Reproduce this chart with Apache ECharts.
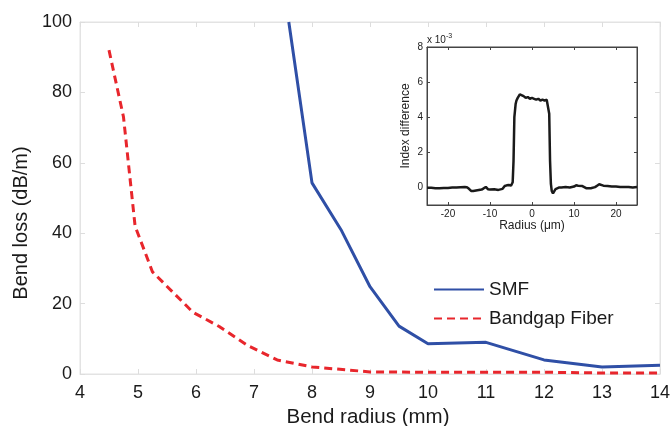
<!DOCTYPE html>
<html><head><meta charset="utf-8">
<script src="https://cdn.jsdelivr.net/npm/echarts@6/dist/echarts.min.js"></script>
<style>html,body{margin:0;padding:0;background:#fff}#c{width:670px;height:426px}</style>
</head><body><div id="c"></div>
<script>
// Main chart data
var smfRadius = [7.6, 8, 8.5, 9, 9.5, 10, 11, 12, 13, 14];
var smfLoss   = [100, 54.3, 41, 24.8, 13.6, 8.6, 9, 4, 2, 2.5];
var bgRadius  = [4.5, 4.75, 4.95, 5.25, 5.95, 6.4, 6.9, 7.4, 8, 9, 10, 11, 12, 13, 14];
var bgLoss    = [92, 73, 42, 29, 17.5, 13.5, 8, 4, 2, 0.6, 0.5, 0.5, 0.5, 0.3, 0.3];
// Inset data (index difference in units of 1e-3)
var insetXTicks = [-20, -10, 0, 10, 20];
var insetYTicks = [0, 2, 4, 6, 8];
var insetRadius = [-25,-24,-23,-22,-21,-20,-19,-18,-17,-16,-15.5,-15,-14.5,-14,-13,-12,-11.5,-11,-10.5,-10,-9,-8,-7,-6.5,-6,-5.5,-5,-4.6,-4.4,-4.2,-3.9,-3.7,-3.4,-2.9,-2.5,-2,-1.5,-1,-0.5,0,0.5,1,1.5,2,2.5,3,3.5,3.9,4.1,4.3,4.5,4.7,5,5.3,5.6,6,6.5,7,8,9,10,10.5,11,12,13,14,15,15.5,16,17,18,19,20,21,22,23,24,25];
var insetIndex  = [-0.02,-0.02,-0.04,-0.05,-0.03,-0.03,-0.01,0,0.01,0.02,0.01,-0.08,-0.2,-0.2,-0.16,-0.12,-0.05,0.03,-0.1,-0.12,-0.1,-0.14,-0.08,0.08,0.12,0.14,0.1,0.3,1.5,4.0,4.75,4.95,5.1,5.3,5.22,5.2,5.1,5.15,5.05,5.1,5.05,5.0,5.05,4.95,5.0,4.95,5.0,4.95,4.2,1.5,0.2,-0.2,-0.34,-0.25,-0.1,-0.05,0,0,0.02,0,0.05,0.12,0.1,0.08,-0.05,-0.05,0.02,0.1,0.18,0.1,0.08,0.05,0.05,0.03,0.02,0.03,0,0.02];

function pairs(a,b){return a.map(function(v,i){return [v,b[i]];});}

var FONT = '"Liberation Sans", Arial, sans-serif';
var faint = '#e3e3e3';
var dark = '#444';
var chart = echarts.init(document.getElementById('c'), null, {renderer:'canvas'});

function mainX(pos, showLabel){
  return {gridIndex:0, type:'value', min:4, max:14, interval:1, position:pos,
    axisLine:{onZero:false, lineStyle:{color:faint}},
    axisTick:{inside:true, length:5, lineStyle:{color:'#ddd'}},
    axisLabel:{show:showLabel, fontSize:18, color:'#1a1a1a', margin:10, fontFamily:FONT},
    splitLine:{show:false}};
}
function mainY(pos, showLabel){
  return {gridIndex:0, type:'value', min:0, max:100, interval:20, position:pos,
    axisLine:{show:true, onZero:false, lineStyle:{color:faint}},
    axisTick:{show:true, inside:true, length:5, lineStyle:{color:'#ddd'}},
    axisLabel:{show:showLabel, fontSize:18, color:'#1a1a1a', margin:8, fontFamily:FONT},
    splitLine:{show:false}};
}
function insetX(pos, showLabel){
  return {gridIndex:1, type:'value', min:-25, max:25, position:pos,
    axisLine:{onZero:false, lineStyle:{color:dark}},
    axisTick:{inside:true, length:3, customValues:insetXTicks, lineStyle:{color:dark}},
    axisLabel:{show:showLabel, customValues:insetXTicks, fontSize:10, color:'#222', margin:4, fontFamily:FONT},
    splitLine:{show:false}, z:6};
}
function insetY(pos, showLabel){
  return {gridIndex:1, type:'value', min:-1, max:8, position:pos,
    axisLine:{show:true, onZero:false, lineStyle:{color:dark}},
    axisTick:{show:true, inside:true, length:3, customValues:insetYTicks, lineStyle:{color:dark}},
    axisLabel:{show:showLabel, customValues:insetYTicks, fontSize:10, color:'#222', margin:4, fontFamily:FONT},
    splitLine:{show:false}, z:6};
}

var xb = mainX('bottom', true);
xb.name = 'Bend radius (mm)'; xb.nameLocation = 'middle'; xb.nameGap = 26;
xb.nameTextStyle = {fontSize:20.5, color:'#1a1a1a', fontFamily:FONT, padding:[0,4,0,0]};
var yl = mainY('left', true);
yl.name = 'Bend loss (dB/m)'; yl.nameLocation = 'middle'; yl.nameGap = 31;
yl.nameTextStyle = {fontSize:20, color:'#1a1a1a', fontFamily:FONT, padding:[0,50,0,0]};
var ixb = insetX('bottom', true);
ixb.name = 'Radius (\u03bcm)'; ixb.nameLocation = 'middle'; ixb.nameGap = 14;
ixb.nameTextStyle = {fontSize:12, color:'#222', fontFamily:FONT, verticalAlign:'top'};
var iyl = insetY('left', true);
iyl.name = 'Index difference'; iyl.nameLocation = 'middle'; iyl.nameGap = 15;
iyl.nameTextStyle = {fontSize:12, color:'#222', fontFamily:FONT};

chart.setOption({
  animation:false,
  backgroundColor:'#fff',
  textStyle:{fontFamily:FONT},
  grid:[
    {left:80, right:10, top:22, bottom:52, outerBoundsMode:'none', containLabel:false, show:true, borderColor:faint, borderWidth:1, backgroundColor:'transparent'},
    {left:427, top:47, width:210, height:158, outerBoundsMode:'none', containLabel:false, show:true, borderColor:dark, borderWidth:1, backgroundColor:'#fff', z:5}
  ],
  legend:{
    orient:'vertical', left:433, top:280, padding:0, itemWidth:50, itemHeight:14, itemGap:10,
    textStyle:{fontSize:19, color:'#1a1a1a', fontFamily:FONT},
    itemStyle:{color:'transparent', borderColor:'transparent', borderWidth:0},
    data:['SMF','Bandgap Fiber']
  },
  graphic:[
    {type:'text', left:427, top:33, z:10,
      style:{text:'x 10{s|-3}', fill:'#222', font:'10px ' + FONT,
        rich:{s:{fontSize:7, fontFamily:FONT, fill:'#222', padding:[0,0,7,0]}}}}
  ],
  xAxis:[xb, mainX('top', false), ixb, insetX('top', false)],
  yAxis:[yl, mainY('right', false), iyl, insetY('right', false)],
  series:[
    {name:'SMF', type:'line', xAxisIndex:0, yAxisIndex:0, data:pairs(smfRadius, smfLoss),
      showSymbol:false, symbol:'none', lineStyle:{color:'#2f4fa6', width:3}, itemStyle:{color:'#2f4fa6'}, z:3},
    {name:'Bandgap Fiber', type:'line', xAxisIndex:0, yAxisIndex:0, data:pairs(bgRadius, bgLoss),
      showSymbol:false, symbol:'none', lineStyle:{color:'#e8262c', width:3, type:[8,5]}, itemStyle:{color:'#e8262c'}, z:2},
    {name:'inset', type:'line', xAxisIndex:2, yAxisIndex:2, data:pairs(insetRadius, insetIndex),
      showSymbol:false, symbol:'none', lineStyle:{color:'#1a1a1a', width:2.5}, z:7}
  ]
});
</script></body></html>
